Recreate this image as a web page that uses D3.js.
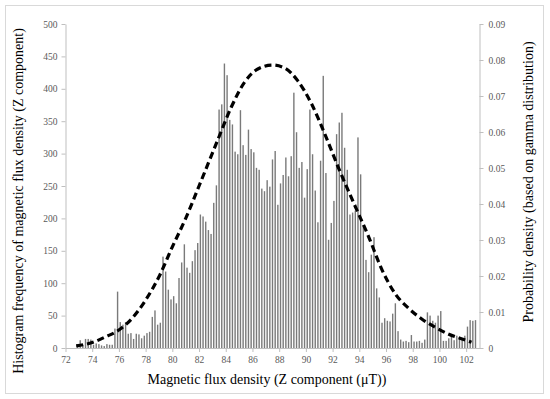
<!DOCTYPE html>
<html>
<head>
<meta charset="utf-8">
<script src="https://cdn.jsdelivr.net/npm/d3@7"></script>
<style>
  html, body { margin: 0; padding: 0; background: #fff; }
  svg { display: block; }
  text { font-family: "Liberation Serif", "Times New Roman", serif; }
</style>
</head>
<body>
<svg id="chart" width="550" height="399"></svg>
<script>
// Histogram bin centres (bin width 0.2 µT)
const binCenters = [
  72.9,73.1,73.3,73.5,73.7,73.9,74.1,74.3,74.5,74.7,
  74.9,75.1,75.3,75.5,75.7,75.9,76.1,76.3,76.5,76.7,
  76.9,77.1,77.3,77.5,77.7,77.9,78.1,78.3,78.5,78.7,
  78.9,79.1,79.3,79.5,79.7,79.9,80.1,80.3,80.5,80.7,
  80.9,81.1,81.3,81.5,81.7,81.9,82.1,82.3,82.5,82.7,
  82.9,83.1,83.3,83.5,83.7,83.9,84.1,84.3,84.5,84.7,
  84.9,85.1,85.3,85.5,85.7,85.9,86.1,86.3,86.5,86.7,
  86.9,87.1,87.3,87.5,87.7,87.9,88.1,88.3,88.5,88.7,
  88.9,89.1,89.3,89.5,89.7,89.9,90.1,90.3,90.5,90.7,
  90.9,91.1,91.3,91.5,91.7,91.9,92.1,92.3,92.5,92.7,
  92.9,93.1,93.3,93.5,93.7,93.9,94.1,94.3,94.5,94.7,
  94.9,95.1,95.3,95.5,95.7,95.9,96.1,96.3,96.5,96.7,
  96.9,97.1,97.3,97.5,97.7,97.9,98.1,98.3,98.5,98.7,
  98.9,99.1,99.3,99.5,99.7,99.9,100.1,100.3,100.5,100.7,
  100.9,101.1,101.3,101.5,101.7,101.9,102.1,102.3,102.5,102.7
];
// Histogram frequencies
const frequencies = [
  4,12,5,14,14,13,5,7,6,4,
  3,6,5,5,30,87,40,36,40,22,
  23,14,22,21,15,19,23,25,48,58,
  36,39,141,118,90,75,80,69,108,132,
  160,124,116,134,151,162,206,203,195,182,
  176,224,251,368,376,439,421,352,345,303,
  299,367,313,298,337,307,302,278,275,246,
  242,259,249,291,304,221,254,267,294,265,
  296,394,333,278,287,232,276,368,299,243,
  194,289,420,270,167,193,227,330,348,363,
  309,275,206,209,212,325,268,189,136,117,
  144,171,92,78,39,46,42,41,53,69,
  26,13,10,11,9,20,10,10,11,8,
  13,55,50,42,39,50,57,11,11,15,
  17,12,19,17,15,19,33,43,42,43
];
// Gamma-distribution probability density curve
const curveX = [72.8,74.0,75.0,76.0,77.0,78.0,79.0,80.0,81.0,82.0,83.4,84.4,85.4,86.4,87.5,88.4,89.4,90.4,91.4,92.4,93.7,94.7,95.7,96.7,97.7,98.7,99.7,100.7,101.7,102.4];
const curveP = [0.0006,0.0015,0.0031,0.0050,0.0083,0.0133,0.0198,0.0281,0.0360,0.0450,0.0578,0.0668,0.0738,0.0775,0.0786,0.0778,0.0742,0.0680,0.0596,0.0504,0.0393,0.0309,0.0217,0.0150,0.0110,0.0080,0.0057,0.0038,0.0025,0.0016];

const xTicks = [72,74,76,78,80,82,84,86,88,90,92,94,96,98,100,102];
const yLeftTicks = [0,50,100,150,200,250,300,350,400,450,500];
const yRightTicks = [0,0.01,0.02,0.03,0.04,0.05,0.06,0.07,0.08,0.09];

const svg = d3.select("#chart");
const L = 65.5, R = 479.5, T = 24, B = 348;

// chart-area border
svg.append("rect").attr("x", 5.5).attr("y", 5.5).attr("width", 538).attr("height", 388)
  .attr("fill", "#fff").attr("stroke", "#d9d9d9").attr("stroke-width", 1);

const x = d3.scaleLinear().domain([72, 103]).range([L, R]);
const yL = d3.scaleLinear().domain([0, 500]).range([B, T]);
const yR = d3.scaleLinear().domain([0, 0.09]).range([B, T]);

const axisColor = "#bfbfbf", labelColor = "#595959";

function styleAxis(g) {
  g.select(".domain").attr("stroke", axisColor);
  g.selectAll(".tick line").attr("stroke", axisColor);
  g.selectAll(".tick text").attr("fill", labelColor).style("font-size", "9.5px")
    .style("font-family", '"Liberation Serif", "Times New Roman", serif');
}

// bars
svg.append("g").selectAll("rect").data(binCenters).join("rect")
  .attr("x", (d) => x(d) - 0.7)
  .attr("width", 1.4)
  .attr("y", (d, i) => yL(frequencies[i]))
  .attr("height", (d, i) => B - yL(frequencies[i]))
  .attr("fill", "#7a7a7a");

// axes
svg.append("g").attr("transform", `translate(${L},0)`)
  .call(d3.axisLeft(yL).tickValues(yLeftTicks).tickSize(4).tickPadding(4).tickSizeOuter(0))
  .call(styleAxis);
svg.append("g").attr("transform", `translate(${R},0)`)
  .call(d3.axisRight(yR).tickValues(yRightTicks).tickSize(4).tickPadding(5).tickSizeOuter(0)
    .tickFormat((d) => d === 0 ? "0" : d3.format(".2f")(d)))
  .call(styleAxis);
svg.append("g").attr("transform", `translate(0,${B})`)
  .call(d3.axisBottom(x).tickValues(xTicks).tickSize(4).tickPadding(4).tickSizeOuter(0))
  .call(styleAxis);

// density curve
const line = d3.line().x((d) => x(d[0])).y((d) => yR(d[1])).curve(d3.curveMonotoneX);
svg.append("path").datum(curveX.map((v, i) => [v, curveP[i]]))
  .attr("d", line).attr("fill", "none").attr("stroke", "#000")
  .attr("stroke-width", 3.2).attr("stroke-dasharray", "7,4");

// titles
svg.append("text").attr("x", 267).attr("y", 384).attr("text-anchor", "middle")
  .style("font-size", "14px").attr("fill", "#000")
  .text("Magnetic flux density (Z component (μT))");
svg.append("text").attr("transform", "translate(23,201) rotate(-90)").attr("text-anchor", "middle")
  .style("font-size", "14px").attr("fill", "#000")
  .text("Histogram frequency of magnetic flux density (Z component)");
svg.append("text").attr("transform", "translate(533,182) rotate(-90)").attr("text-anchor", "middle")
  .style("font-size", "14px").attr("fill", "#000")
  .text("Probability density (based on gamma distribution)");
</script>
</body>
</html>
